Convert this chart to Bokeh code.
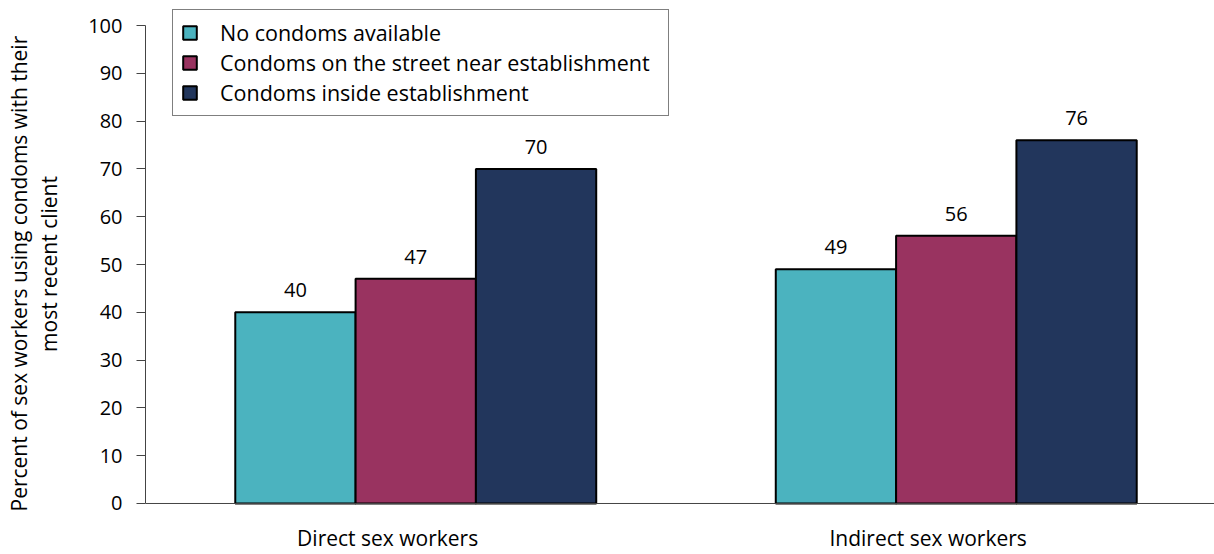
from bokeh.plotting import figure
from bokeh.models import (ColumnDataSource, Range1d, FixedTicker, Legend, LegendItem,
                          LabelSet, Title, Span)
from bokeh.core.properties import value
from bokeh.transform import dodge
from bokeh.embed import file_html
from bokeh.resources import INLINE

categories = ["Direct sex workers", "Indirect sex workers"]
series = ["No condoms available", "Condoms on the street near establishment",
          "Condoms inside establishment"]
no_condoms = [40, 49]
street = [47, 56]
inside = [70, 76]
colors = ["#4BB3BF", "#993360", "#22365C"]
y_ticks = [0, 10, 20, 30, 40, 50, 60, 70, 80, 90, 100]
y_title = ["Percent of sex workers using condoms with their", "most recent client"]

FONT = "Open Sans"
cat_pos = [i + 0.5 for i in range(len(categories))]
label_pos = [c - 0.052 for c in cat_pos]

src = ColumnDataSource(dict(x=cat_pos, no=no_condoms, st=street, ins=inside,
                            no_t=[str(v) for v in no_condoms],
                            st_t=[str(v) for v in street],
                            ins_t=[str(v) for v in inside]))

p = figure(width=1214, height=554, output_backend="svg", toolbar_location=None,
           x_range=Range1d(0, 1069 / 540.5), y_range=Range1d(-3.35, 103.56),
           min_border_left=145, min_border_right=0, min_border_top=8,
           min_border_bottom=35)
p.outline_line_color = None
p.grid.visible = False
p.background_fill_color = "white"

bw = 0.2226
offsets = [-bw, 0.0, bw]
fields = ["no", "st", "ins"]
renderers = []
for f, off, c in zip(fields, offsets, colors):
    r = p.vbar(x=dodge("x", off, range=p.x_range), bottom=0, top=f, width=bw, source=src,
               fill_color=c, line_color="black", line_width=2)
    renderers.append(r)
    lab = LabelSet(x=dodge("x", off, range=p.x_range), y=f, text=f + "_t", source=src,
                   text_align="center", text_baseline="alphabetic", y_offset=15,
                   text_font=value(FONT), text_font_size=value("20px"),
                   text_color="black")
    p.add_layout(lab)

# baseline (category axis line at zero)
p.add_layout(Span(location=0, dimension="width", line_color="#444444", line_width=1))

# y axis
p.yaxis.ticker = FixedTicker(ticks=y_ticks)
p.yaxis.bounds = (0, 100)
p.yaxis.minor_tick_line_color = None
p.yaxis.major_tick_out = 9
p.yaxis.major_tick_in = 0
p.yaxis.major_label_standoff = 14
p.yaxis.major_label_text_font = FONT
p.yaxis.major_label_text_font_size = "20px"
p.yaxis.major_label_text_color = "black"
p.yaxis.axis_line_color = "#444444"
p.yaxis.major_tick_line_color = "#444444"
p.yaxis.axis_label = y_title[1]
p.yaxis.axis_label_standoff = 22
p.yaxis.axis_label_text_font = FONT
p.yaxis.axis_label_text_font_size = "21px"
p.yaxis.axis_label_text_font_style = "normal"
p.yaxis.axis_label_text_color = "black"

# x axis (labels only)
p.xaxis.ticker = FixedTicker(ticks=label_pos)
p.xaxis.major_label_overrides = {lp: c for lp, c in zip(label_pos, categories)}
p.xaxis.axis_line_color = None
p.xaxis.major_tick_line_color = None
p.xaxis.minor_tick_line_color = None
p.xaxis.major_tick_out = 0
p.xaxis.major_tick_in = 0
p.xaxis.major_label_standoff = 4
p.xaxis.major_label_text_font = FONT
p.xaxis.major_label_text_font_size = "21px"
p.xaxis.major_label_text_color = "black"

# outer line of the y title
p.add_layout(Title(text=y_title[0], align="left", offset=8, standoff=0,
                   text_font=FONT, text_font_size="21px",
                   text_font_style="normal", text_color="black"), "left")

legend = Legend(items=[LegendItem(label=s, renderers=[r]) for s, r in zip(series, renderers)],
                location=(27, 403), orientation="vertical",
                label_text_font=FONT, label_text_font_size="21.5px",
                label_text_color="black", glyph_width=17, glyph_height=17,
                label_standoff=22, label_width=440, padding=8, spacing=1, margin=0,
                border_line_color="black", border_line_width=1,
                background_fill_alpha=1)
p.add_layout(legend)

open("out.html", "w").write(file_html(p, INLINE))
